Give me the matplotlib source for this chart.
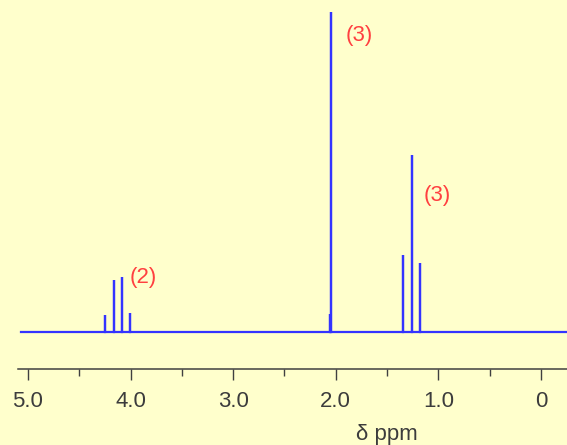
import numpy as np
from matplotlib import rcParams
from matplotlib import pyplot as plt

# 1H NMR peak list (ppm, height in arbitrary units)
peak_ppm = [4.250, 4.162, 4.084, 4.006, 2.057, 2.047, 1.343, 1.257, 1.179]
peak_height = [17, 52, 55, 19, 18, 320, 77, 177, 69]

# integration labels: (ppm, height, text)
label_ppm = [3.88, 1.77, 1.01]
label_height = [55, 296, 137]
label_text = ['(2)', '(3)', '(3)']

major_ticks = [5.0, 4.0, 3.0, 2.0, 1.0, 0.0]
major_labels = ['5.0', '4.0', '3.0', '2.0', '1.0', '0']
minor_ticks = [4.5, 3.5, 2.5, 1.5, 0.5]

x_start, x_end = 5.068, -0.26
xlim = (5.097, -0.253)
ylim = (-37, 332)

rcParams['font.family'] = ['Liberation Sans', 'DejaVu Sans']
bg = '#ffffcc'

# build a stick trace: baseline with vertical spikes at each peak
order = np.argsort(peak_ppm)[::-1]
xs, ys = [x_start], [0]
for i in order:
    xs += [peak_ppm[i], peak_ppm[i], peak_ppm[i]]
    ys += [0, peak_height[i], 0]
xs.append(x_end)
ys.append(0)

fig = plt.figure(figsize=(5.67, 4.45), dpi=100, facecolor=bg)
ax = fig.add_axes([18 / 567, 76 / 445, 549 / 567, 369 / 445])
ax.set_facecolor(bg)

ax.plot(xs, ys, color='#3333ff', lw=1.6, solid_joinstyle='miter')

for p, h, t in zip(label_ppm, label_height, label_text):
    ax.text(p, h, t, color='#ff4040', fontsize=16, ha='center', va='center')

ax.set_xlim(*xlim)
ax.set_ylim(*ylim)

for s in ['top', 'left', 'right']:
    ax.spines[s].set_visible(False)
ax.spines['bottom'].set_color('#404040')
ax.spines['bottom'].set_linewidth(1.1)
ax.set_yticks([])
ax.set_xticks(major_ticks)
ax.set_xticklabels(major_labels)
ax.set_xticks(minor_ticks, minor=True)
ax.tick_params(axis='x', which='major', length=8, width=1, color='#404040',
               labelsize=16, labelcolor='#3c3c3c', pad=8)
ax.tick_params(axis='x', which='minor', length=5, width=1, color='#404040')

fig.text(387 / 567, 1 - 440 / 445, '\u03b4 ppm', fontsize=16, color='#3c3c3c',
         ha='center', va='baseline')

plt.savefig('out.png', dpi=100, facecolor=bg)
